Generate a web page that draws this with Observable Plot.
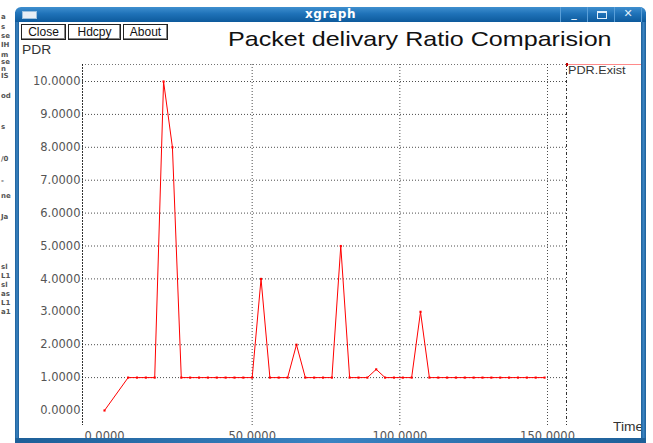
<!DOCTYPE html>
<html>
<head>
<meta charset="utf-8">
<script src="https://cdn.jsdelivr.net/npm/d3@7"></script>
<script src="https://cdn.jsdelivr.net/npm/@observablehq/plot@0.6"></script>
<style>
html, body { margin: 0; padding: 0; background: #fff; overflow: hidden; }
#root { position: relative; width: 653px; height: 443px; font-family: "DejaVu Sans", sans-serif; overflow: hidden; background: #fff; }
.border { position: absolute; background: linear-gradient(90deg, #1d5f98, #3a83c2, #1d5f98); z-index: 5; }
#titlebar { position: absolute; left: 15px; top: 7px; width: 631px; height: 15px; border-radius: 6px 6px 0 0;
  background: linear-gradient(180deg, #3f8fcf 0%, #1f72b8 45%, #0d5a9c 100%); z-index: 6; }
#titlebar .name { position: absolute; left: 0; width: 100%; top: 1px; text-align: center; color: #fff; font-weight: bold; font-size: 12px; line-height: 13px; letter-spacing: 0.6px; }
#titlebar .icon { position: absolute; left: 7px; top: 4px; width: 13px; height: 6px; background: #e8eef5; border: 1px solid #9cc0de; }
#titlebar .sep { position: absolute; top: 0; width: 1px; height: 15px; background: #5a9fd8; }
#titlebar .wb { position: absolute; top: 0; color: #dfeefa; font-weight: bold; font-size: 11px; line-height: 14px; width: 26px; text-align: center; }
#titlebar .box { position: absolute; top: 4px; width: 8px; height: 5px; border: 1px solid #dfeefa; border-top-width: 2px; }
.btn { position: absolute; top: 24px; height: 14px; border: 1px solid #222; box-shadow: inset -1px -1px 0 #888; background: #fff;
  font-family: "Liberation Sans", Arial, sans-serif; font-size: 12px; line-height: 14px; color: #111; text-align: center; z-index: 4; }
#title { position: absolute; left: 228px; top: 28px; font-family: "Liberation Sans", Arial, sans-serif; font-size: 21px; line-height: 21px;
  color: #111; white-space: nowrap; transform: scaleX(1.195); transform-origin: 0 0; z-index: 4; }
.lbl { position: absolute; font-family: "Liberation Sans", Arial, sans-serif; font-size: 12px; color: #333; white-space: nowrap; z-index: 4; transform: scaleX(1.15); transform-origin: 0 0; }
.junk { position: absolute; left: 1px; font-family: "DejaVu Sans", sans-serif; font-size: 7px; font-weight: bold; color: #555; line-height: 7px; }
#chart { position: absolute; left: 0; top: 0; z-index: 3; }
#legline { position: absolute; left: 566px; top: 64px; width: 76px; height: 1px; background: #ff8a8a; z-index: 4; }
#legmark { position: absolute; left: 566px; top: 63px; width: 2px; height: 3px; background: #c00000; z-index: 4; }
</style>
</head>
<body>
<div id="root">
  <div id="chart"></div>
</div>
<script>
// ---- data ----
const times = [0, 8, 11, 14, 17, 20, 23, 26, 29, 32, 35, 38, 41, 44, 47, 50,
  53, 56, 59, 62, 65, 68, 71, 74, 77, 80, 83, 86, 89, 92, 95, 98, 101, 104,
  107, 110, 113, 116, 119, 122, 125, 128, 131, 134, 137, 140, 143, 146, 149];
const pdr = [0, 1, 1, 1, 1, 10, 8, 1, 1, 1, 1, 1, 1, 1, 1, 1,
  4, 1, 1, 1, 2, 1, 1, 1, 1, 5, 1, 1, 1, 1.25, 1, 1, 1, 1,
  3, 1, 1, 1, 1, 1, 1, 1, 1, 1, 1, 1, 1, 1, 1];
const yTicks = [0, 1, 2, 3, 4, 5, 6, 7, 8, 9, 10];
const xTicks = [0, 50, 100, 150];
const yGrid = [1, 2, 4, 5, 6, 7, 8, 9, 10];
const xGrid = [50, 100, 150];
const seriesName = "PDR.Exist";
const titleText = "Packet delivary Ratio Comparision";
const yLabel = "PDR";
const xLabel = "Time";
const junkText = [[18, "a"], [28, "s"], [37, "se"], [46, "IH"], [56, "m"], [63, "se"], [70, "n"], [77, "IS"],
  [97, "od"], [128, "s"], [160, "/0"], [182, "-"], [197, "ne"], [218, "Ja"], [268, "sl"], [277, "L1"],
  [286, "sl"], [295, "as"], [304, "L1"], [313, "a1"]];

const data = times.map((t, i) => ({t, v: pdr[i]}));
const xDom = [-7.45, 156.43];
const yDom = [-0.456, 10.517];

const chart = Plot.plot({
  width: 653,
  height: 443,
  marginLeft: 82,
  marginRight: 87,
  marginTop: 64,
  marginBottom: 18,
  x: {domain: xDom, ticks: xTicks, tickFormat: d => d.toFixed(4), tickSize: 0, tickPadding: 6, label: null},
  y: {domain: yDom, ticks: yTicks, tickFormat: d => d.toFixed(4), tickSize: 0, tickPadding: 2, label: null},
  style: {background: "transparent", fontFamily: "DejaVu Sans", fontSize: "11.5px", color: "#555", overflow: "visible"},
  marks: [
    Plot.ruleY(yGrid, {stroke: "#000", strokeDasharray: "1,2", strokeOpacity: 0.7}),
    Plot.ruleX(xGrid, {stroke: "#000", strokeDasharray: "1,2", strokeOpacity: 0.7}),
    Plot.ruleY([yDom[1]], {stroke: "#000", strokeDasharray: "1,2", strokeOpacity: 0.55}),
    Plot.ruleX([xDom[0]], {stroke: "#000", strokeDasharray: "2,1", strokeOpacity: 0.8}),
    Plot.ruleX([xDom[1]], {stroke: "#000", strokeDasharray: "3,2,1,2", strokeOpacity: 0.8}),
    Plot.line(data, {x: "t", y: "v", stroke: "#ff0000", strokeWidth: 1}),
    Plot.dot(data, {x: "t", y: "v", symbol: "square", r: 1.2, fill: "#ff0000", stroke: "none"})
  ]
});
document.getElementById("chart").appendChild(chart);

const root = document.getElementById("root");
function add(cls, css, text) {
  const d = document.createElement("div");
  d.className = cls;
  Object.assign(d.style, css);
  if (text != null) d.textContent = text;
  root.appendChild(d);
  return d;
}
// background-window fragments on the far left
for (const [y, s] of junkText) add("junk", {top: (y - 4) + "px"}, s);
// window borders
add("border", {left: "15px", top: "12px", width: "4px", height: "431px"});
add("border", {left: "641px", top: "12px", width: "5px", height: "431px"});
add("border", {left: "15px", top: "438px", width: "631px", height: "5px"});
// title bar
const tb = add("", {}, null);
tb.id = "titlebar";
tb.innerHTML = '<div class="icon"></div><div class="name">xgraph</div>' +
  '<div class="sep" style="left:545px"></div><div class="sep" style="left:572px"></div>' +
  '<div class="sep" style="left:599px"></div><div class="sep" style="left:626px"></div>' +
  '<div class="wb" style="left:546px">_</div><div class="box" style="left:582px"></div>' +
  '<div class="wb" style="left:600px">&#x2715;</div>';
// buttons
add("btn", {left: "21px", width: "43px"}, "Close");
add("btn", {left: "68px", width: "51px"}, "Hdcpy");
add("btn", {left: "123px", width: "43px"}, "About");
// titles and labels
add("", {}, titleText).id = "title";
add("lbl", {left: "22px", top: "43px"}, yLabel);
add("lbl", {left: "613px", top: "420px"}, xLabel);
add("lbl", {left: "568px", top: "64px", fontSize: "11px"}, seriesName);
const ll = add("", {}, null); ll.id = "legline";
const lm = add("", {}, null); lm.id = "legmark";
</script>
</body>
</html>
